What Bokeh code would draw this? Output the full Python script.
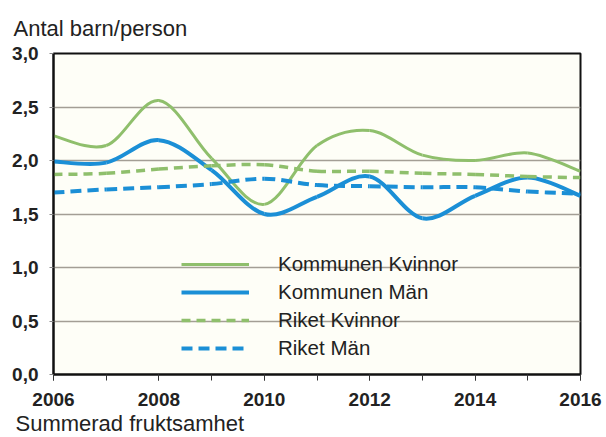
from bokeh.plotting import figure
from bokeh.models import SingleIntervalTicker, CustomJSTickFormatter, Range1d, Title
from bokeh.embed import file_html
from bokeh.resources import INLINE

# ---- data ----
years = [2006, 2007, 2008, 2009, 2010, 2011, 2012, 2013, 2014, 2015, 2016]
kommunen_kvinnor = [2.23, 2.14, 2.56, 2.02, 1.59, 2.14, 2.28, 2.05, 2.00, 2.07, 1.90]
kommunen_man = [1.99, 1.98, 2.19, 1.91, 1.50, 1.66, 1.85, 1.46, 1.67, 1.84, 1.67]
riket_kvinnor = [1.87, 1.88, 1.92, 1.95, 1.96, 1.90, 1.90, 1.88, 1.87, 1.85, 1.84]
riket_man = [1.70, 1.73, 1.75, 1.78, 1.83, 1.77, 1.76, 1.75, 1.75, 1.71, 1.69]
series_labels = ["Kommunen Kvinnor", "Kommunen Män", "Riket Kvinnor", "Riket Män"]
y_title = "Antal barn/person"
x_title = "Summerad fruktsamhet"

FONT = "Liberation Sans"
GREEN = "#8fbf6c"
BLUE = "#1b8fd6"


def smooth(xs, ys):
    """Catmull-Rom -> cubic Bezier segments through the data points."""
    n = len(xs)
    d = dict(x0=[], y0=[], x1=[], y1=[], cx0=[], cy0=[], cx1=[], cy1=[])
    for i in range(n - 1):
        a = max(i - 1, 0)
        b = min(i + 2, n - 1)
        d["x0"].append(xs[i]); d["y0"].append(ys[i])
        d["x1"].append(xs[i + 1]); d["y1"].append(ys[i + 1])
        d["cx0"].append(xs[i] + (xs[i + 1] - xs[a]) / 6)
        d["cy0"].append(ys[i] + (ys[i + 1] - ys[a]) / 6)
        d["cx1"].append(xs[i + 1] - (xs[b] - xs[i]) / 6)
        d["cy1"].append(ys[i + 1] - (ys[b] - ys[i]) / 6)
    return d


p = figure(width=606, height=437, output_backend="svg", toolbar_location=None,
           x_range=Range1d(2006, 2016), y_range=Range1d(0, 3),
           min_border_left=53, min_border_right=26, min_border_top=53, min_border_bottom=63)

p.background_fill_color = "#fefef7"
p.border_fill_color = "white"
p.outline_line_color = "#111111"
p.outline_line_width = 2

p.xgrid.grid_line_color = None
p.ygrid.grid_line_color = "#a39e95"
p.ygrid.grid_line_width = 1.5

p.xaxis.ticker = SingleIntervalTicker(interval=2, num_minor_ticks=2)
p.yaxis.ticker = SingleIntervalTicker(interval=0.5, num_minor_ticks=0)
p.yaxis.formatter = CustomJSTickFormatter(code="return tick.toFixed(1).replace('.', ',');")

for ax in (p.xaxis[0], p.yaxis[0]):
    ax.axis_line_color = "#111111"
    ax.axis_line_width = 2
    ax.major_label_text_font = FONT
    ax.major_label_text_font_style = "bold"
    ax.major_label_text_color = "#222222"
    ax.major_tick_in = 0
    ax.minor_tick_in = 0

p.xaxis.major_tick_out = 6
p.xaxis.minor_tick_out = 6
p.xaxis.major_tick_line_color = "#333333"
p.xaxis.minor_tick_line_color = "#333333"
p.xaxis.major_label_text_font_size = "19px"
p.xaxis.major_label_standoff = 12

p.yaxis.major_tick_out = 4
p.yaxis.major_tick_line_color = "#888888"
p.yaxis.minor_tick_line_color = None
p.yaxis.major_label_text_font_size = "19px"
p.yaxis.major_label_standoff = 11

styles = [
    (kommunen_kvinnor, GREEN, 3, "solid"),
    (kommunen_man, BLUE, 4, "solid"),
    (riket_kvinnor, GREEN, 3.5, "9 6"),
    (riket_man, BLUE, 4, "11 6"),
]
for (vals, color, w, dash), lab in zip(styles, series_labels):
    p.bezier(x0="x0", y0="y0", x1="x1", y1="y1", cx0="cx0", cy0="cy0", cx1="cx1", cy1="cy1",
             source=smooth(years, vals), line_color=color, line_width=w, line_dash=dash,
             legend_label=lab)

leg = p.legend[0]
leg.location = (128, 14)
leg.background_fill_alpha = 0
leg.border_line_color = None
leg.padding = 0
leg.margin = 0
leg.spacing = 4
leg.glyph_width = 68
leg.glyph_height = 24
leg.label_height = 24
leg.label_standoff = 29
leg.label_text_font = FONT
leg.label_text_font_size = "20.5px"
leg.label_text_color = "#222222"
leg.inactive_fill_alpha = 0

p.title.text = y_title
p.title.align = "left"
p.title.offset = -40
p.title.standoff = 26
p.title.text_font = FONT
p.title.text_font_size = "22px"
p.title.text_font_style = "normal"
p.title.text_color = "#222222"

p.add_layout(Title(text=x_title, align="left", offset=-38, standoff=1,
                   text_font=FONT, text_font_size="22px", text_font_style="normal",
                   text_color="#222222"), "below")

open("out.html", "w").write(file_html(p, INLINE))
